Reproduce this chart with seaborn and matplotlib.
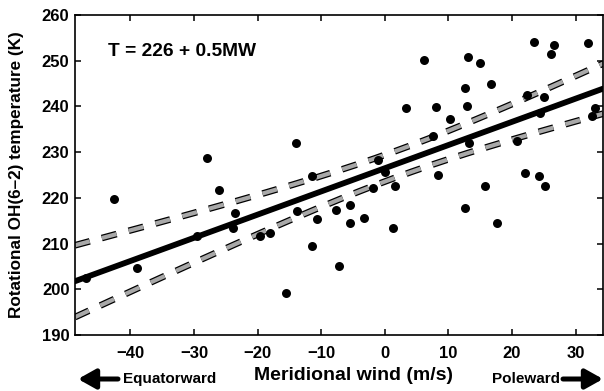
import numpy as np
import pandas as pd
import matplotlib.pyplot as plt
import seaborn as sns
from matplotlib import patheffects

# meridional wind (m/s) and rotational OH(6-2) temperature (K)
wind = [-46.9, -42.5, -38.9, -29.6, -28.0, -26.0, -23.5, -23.9, -19.6, -18.0,
        -15.5, -14.0, -13.8, -11.4, -10.7, -11.4, -7.6, -7.2, -5.5, -5.5,
        -3.3, -1.8, -1.0, 0.1, 1.6, 1.3, 3.3, 6.1, 7.5, 8.0,
        8.4, 10.2, 12.6, 12.6, 12.9, 13.1, 13.3, 14.9, 15.8, 16.7,
        17.6, 20.8, 22.1, 22.4, 23.5, 24.4, 24.3, 25.0, 25.2, 26.2,
        26.6, 32.0, 32.5, 33.1]
temp = [202.5, 219.7, 204.6, 211.7, 228.8, 221.7, 216.7, 213.5, 211.6, 212.4,
        199.1, 231.9, 217.2, 224.7, 215.4, 209.5, 217.4, 205.2, 218.5, 214.6,
        215.6, 222.2, 228.3, 225.6, 222.7, 213.4, 239.6, 250.2, 233.5, 239.8,
        224.9, 237.3, 217.8, 244.0, 240.2, 250.9, 231.9, 249.6, 222.7, 245.0,
        214.6, 232.4, 225.4, 242.4, 254.0, 238.6, 224.8, 242.0, 222.5, 251.5,
        253.5, 253.8, 238.0, 239.6]

x_ticks = [-40, -30, -20, -10, 0, 10, 20, 30]
y_ticks = [190, 200, 210, 220, 230, 240, 250, 260]
x_range = (-48.7, 34.3)
y_range = (190, 260)
equation = "T = 226 + 0.5MW"

df = pd.DataFrame({"wind": wind, "temp": temp})

# least squares fit and 95% confidence band of the mean
slope, intercept = np.polyfit(df.wind, df.temp, 1)
n = len(df)
resid = df.temp - (intercept + slope * df.wind)
s = np.sqrt(np.sum(resid ** 2) / (n - 2))
sxx = np.sum((df.wind - df.wind.mean()) ** 2)
t_crit = 2.007
xs = np.linspace(x_range[0], x_range[1], 200)
fit = intercept + slope * xs
hw = t_crit * s * np.sqrt(1 / n + (xs - df.wind.mean()) ** 2 / sxx)
band = pd.DataFrame({"x": xs, "fit": fit, "lo": fit - hw, "hi": fit + hw})

sns.set_style("ticks")
plt.rcParams["font.family"] = ["Liberation Sans", "DejaVu Sans"]
plt.rcParams["font.weight"] = "bold"
plt.rcParams["text.color"] = "black"
plt.rcParams["axes.labelcolor"] = "black"
plt.rcParams["lines.scale_dashes"] = False

fig = plt.figure(figsize=(6.04, 3.91), dpi=100)
ax = fig.add_axes([75 / 604, 1 - 335 / 391, 528 / 604, 320 / 391])

stroke = [patheffects.Stroke(linewidth=4.8, foreground="black"), patheffects.Normal()]
for col in ["lo", "hi"]:
    sns.lineplot(data=band, x="x", y=col, ax=ax, color="#a8a8a8", lw=3.0,
                 dashes=False, path_effects=stroke, zorder=2)
for ln in ax.lines:
    ln.set_dashes((11, 9))

sns.lineplot(data=band, x="x", y="fit", ax=ax, color="black", lw=4.2, zorder=3)
sns.scatterplot(data=df, x="wind", y="temp", ax=ax, color="black", s=42,
                edgecolor="black", linewidth=0, zorder=4)

ax.set_xlim(*x_range)
ax.set_ylim(*y_range)
ax.set_xticks(x_ticks)
ax.set_yticks(y_ticks)
ax.tick_params(direction="in", top=True, right=True, length=4, width=1.1,
               labelsize=12, colors="black")
ax.tick_params(axis="x", pad=8)
ax.tick_params(axis="y", pad=4)
for lab in ax.get_xticklabels() + ax.get_yticklabels():
    lab.set_fontweight("bold")
for sp in ax.spines.values():
    sp.set_visible(True)
    sp.set_linewidth(1.2)
    sp.set_color("black")

ax.set_xlabel("")
ax.set_ylabel("Rotational OH(6–2) temperature (K)", fontsize=12.3,
              fontweight="bold", color="black")
ax.yaxis.set_label_coords(-0.096, 0.5)
ax.text((108 - 75) / 528, 0.885, equation, transform=ax.transAxes, color="black",
        fontsize=13.8, fontweight="bold", va="center", ha="left")

fig.text(354 / 604, 15 / 391, "Meridional wind (m/s)", fontsize=14,
         fontweight="bold", ha="center", va="center", color="black")
fig.text(123 / 604, 12 / 391, "Equatorward", fontsize=11, fontweight="bold",
         ha="left", va="center", color="black")
fig.text(560 / 604, 12 / 391, "Poleward", fontsize=11, fontweight="bold",
         ha="right", va="center", color="black")

arrow = dict(arrowstyle="-|>,head_length=0.75,head_width=0.42", lw=3.6,
             color="black", shrinkA=0, shrinkB=0, mutation_scale=14)
ax.annotate("", xy=(78, 12), xytext=(118, 12), xycoords="figure pixels",
            textcoords="figure pixels", arrowprops=arrow)
ax.annotate("", xy=(603, 12), xytext=(563, 12), xycoords="figure pixels",
            textcoords="figure pixels", arrowprops=arrow)

fig.savefig("out.png", dpi=100)
